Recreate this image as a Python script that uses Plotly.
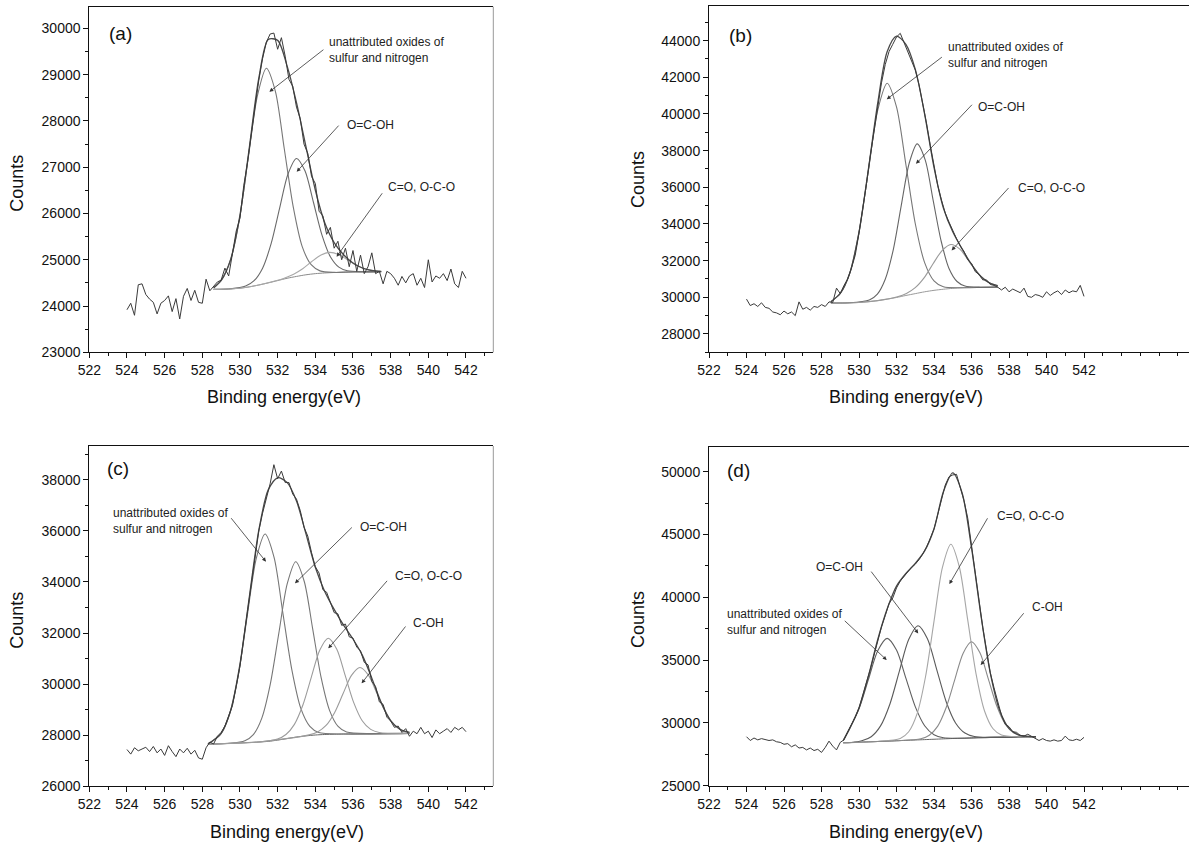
import plotly.graph_objects as go

W, H = 1189, 844
FONT = "Liberation Sans, Arial, sans-serif"

# ---------------- shared energy grid of the measured spectra (eV)
E_RAW = [round(524 + 0.2 * i, 1) for i in range(91)]

# ---------------- panel (a)
A_RAW = [23920, 24060, 23800, 24460, 24480, 24250, 24150, 24080, 23830, 24060,
         24120, 24220, 23880, 24160, 23720, 24210, 24380, 24120, 24340, 24080,
         24060, 24580, 24330, 24420, 24520, 24560, 24820, 24650, 25150, 25620,
         25900, 26600, 27100, 27750, 28300, 28880, 29350, 29700, 29880, 29900,
         29550, 29800, 29400, 28900, 28750, 28300, 28050, 27500, 27300, 26800,
         26650, 26050, 25950, 25550, 25700, 25250, 25400, 25000, 25250, 24850,
         25200, 24750, 25100, 24700, 24850, 25150, 24700, 24750, 24480, 24750,
         24700, 24600, 24450, 24640, 24500, 24650, 24700, 24450, 24600, 24400,
         25000, 24520, 24650, 24600, 24700, 24550, 24800, 24480, 24400, 24750,
         24600]
A_ENV_X = [528.6, 529.0, 529.5, 530.0, 530.5, 531.0, 531.5, 532.0, 532.5, 533.0,
           533.5, 534.0, 534.5, 535.0, 535.5, 536.0, 536.5, 537.0, 537.5]
A_ENV_Y = [24390, 24553, 25000, 25965, 27437, 28927, 29761, 29742, 29191, 28397,
           27450, 26508, 25799, 25370, 25108, 24932, 24822, 24768, 24749]
A_BG_X = [528.6, 529.0, 529.5, 530.0, 530.5, 531.0, 531.5, 532.0, 532.5, 533.0,
          533.5, 534.0, 534.5, 535.0, 535.5, 536.0, 536.5, 537.0, 537.5]
A_BG_Y = [24360, 24362, 24370, 24385, 24415, 24455, 24500, 24550, 24600, 24640,
          24675, 24700, 24715, 24725, 24732, 24737, 24740, 24741, 24742]
A_P1_X = [528.6, 529.03, 529.5, 529.98, 530.45, 530.93, 531.4, 531.88, 532.35,
          532.83, 533.3, 533.78, 534.25, 535.0, 536.0, 537.5]
A_P1_Y = [24400, 24566, 24999, 25894, 27232, 28553, 29141, 28642, 27405,
          26136, 25290, 24893, 24760, 24727, 24737, 24742]
A_P2_X = [528.6, 529.5, 530.3, 530.75, 531.2, 531.65, 532.1, 532.55, 533.0,
          533.45, 533.9, 534.35, 534.8, 535.25, 535.7, 536.5, 537.5]
A_P2_Y = [24360, 24372, 24431, 24547, 24818, 25343, 26107, 26854, 27190,
          26922, 26243, 25539, 25066, 24841, 24762, 24740, 24742]
A_P3_X = [528.6, 530.0, 531.0, 531.9, 532.38, 532.85, 533.33, 533.8, 534.28,
          534.75, 535.23, 535.7, 536.18, 536.65, 537.13, 537.5]
A_P3_Y = [24360, 24385, 24455, 24545, 24607, 24689, 24806, 24957, 25096,
          25160, 25116, 25001, 24881, 24800, 24760, 24747]

# ---------------- panel (b)
B_RAW = [29900, 29550, 29650, 29500, 29700, 29450, 29400, 29200, 29150, 29050,
         29250, 29100, 29200, 29000, 29750, 29350, 29450, 29300, 29500, 29450,
         29600, 29500, 29750, 29720, 30500, 30200, 30650, 31000, 31600, 32300,
         33500, 34800, 36200, 37700, 39100, 40500, 41700, 42700, 43400, 43800,
         44200, 44400, 43900, 43500, 43000, 42400, 41600, 40600, 39500, 38300,
         37100, 36100, 35300, 34600, 34100, 33600, 33200, 32800, 32500, 32050,
         31850, 31400, 31250, 30950, 30950, 30700, 30650, 30550, 30400, 30550,
         30300, 30450, 30350, 30250, 30500, 30050, 30000, 30150, 30100, 30000,
         30300, 30100, 30250, 30350, 30150, 30400, 30250, 30350, 30300, 30650,
         30050]
B_ENV_X = [528.5, 529.0, 529.5, 530.0, 530.5, 531.0, 531.5, 532.0, 532.5, 533.0,
           533.5, 534.0, 534.5, 535.0, 535.5, 536.0, 536.5, 537.0, 537.4]
B_ENV_Y = [29760, 30209, 31294, 33556, 36981, 40602, 43400, 44250, 43800, 42444,
           39998, 37082, 34866, 33572, 32637, 31792, 31131, 30764, 30635]
B_BG_X = [528.5, 529.0, 529.5, 530.0, 530.5, 531.0, 531.5, 532.0, 532.5, 533.0,
          533.5, 534.0, 534.5, 535.0, 535.5, 536.0, 536.5, 537.4]
B_BG_Y = [29690, 29692, 29700, 29720, 29760, 29820, 29900, 29990, 30100, 30200,
          30300, 30380, 30440, 30490, 30520, 30540, 30550, 30560]
B_P1_X = [528.5, 529.0, 529.5, 530.0, 530.5, 531.0, 531.5, 532.0, 532.5, 533.0,
          533.5, 534.0, 534.5, 535.5, 537.4]
B_P1_Y = [29760, 30209, 31294, 33545, 36905, 40216, 41680, 40386, 37245, 34025,
          31894, 30897, 30571, 30522, 30560]
B_P2_X = [528.5, 529.5, 530.55, 530.98, 531.4, 531.83, 532.25, 532.68, 533.1,
          533.53, 533.95, 534.38, 534.8, 535.23, 535.65, 536.5, 537.4]
B_P2_Y = [29690, 29700, 29855, 30175, 30986, 32604, 34988, 37327, 38370,
          37496, 35315, 33071, 31573, 30863, 30616, 30550, 30560]
B_P3_X = [528.5, 530.0, 531.0, 532.05, 532.53, 533.0, 533.48, 533.95, 534.43,
          534.9, 535.38, 535.85, 536.33, 536.8, 537.28, 537.4]
B_P3_Y = [29690, 29720, 29820, 30027, 30210, 30525, 31074, 31828, 32550,
          32880, 32631, 31991, 31326, 30878, 30663, 30620]

# ---------------- panel (c)
C_RAW = [27430, 27250, 27500, 27380, 27450, 27520, 27350, 27550, 27300, 27450,
         27200, 27580, 27350, 27150, 27450, 27300, 27480, 27250, 27400, 27100,
         27050, 27500, 27720, 27650, 27950, 28100, 28350, 28750, 29150, 29900,
         30700, 31800, 32900, 33900, 35100, 36000, 36700, 37300, 37850, 38600,
         38050, 38350, 37900, 37900, 37450, 37250, 36800, 36150, 35800, 35150,
         34600, 34350, 33700, 33600, 33200, 32800, 32750, 32300, 32350, 31850,
         31800, 31450, 31300, 30850, 30750, 30100, 29900, 29300, 29200, 28700,
         28550, 28300, 28350, 28100, 28250, 27950, 28150, 28050, 28300, 28050,
         28150, 27900, 28200, 28050, 28150, 28250, 28100, 28300, 28200, 28300,
         28130]
C_ENV_X = [528.3, 528.5, 529.0, 529.5, 530.0, 530.5, 531.0, 531.5, 532.0, 532.5,
           533.0, 533.5, 534.0, 534.5, 535.0, 535.5, 536.0, 536.5, 537.0, 537.5,
           538.0, 538.5, 539.0]
C_ENV_Y = [27660, 27746, 28062, 28952, 30776, 33430, 36032, 37612, 38087, 37906,
           37178, 35897, 34576, 33629, 32926, 32312, 31764, 31123, 30230, 29269,
           28565, 28221, 28101]
C_BG_X = [528.3, 529.0, 529.5, 530.0, 530.5, 531.0, 531.5, 532.0, 532.5, 533.0,
          533.5, 534.0, 534.5, 535.0, 535.5, 536.0, 536.5, 537.0, 537.5, 538.0,
          538.5, 539.0]
C_BG_Y = [27640, 27660, 27675, 27690, 27708, 27725, 27750, 27800, 27860, 27920,
          27965, 28000, 28020, 28030, 28038, 28045, 28050, 28055, 28058, 28061,
          28063, 28065]
C_P1_X = [528.3, 528.48, 528.96, 529.43, 529.91, 530.38, 530.86, 531.33, 531.81,
          532.28, 532.76, 533.23, 533.71, 534.18, 535.5, 539.0]
C_P1_Y = [27640, 27736, 28016, 28774, 30330, 32641, 34904, 35880, 34964,
          32771, 30534, 29042, 28337, 28097, 28038, 28065]
C_P2_X = [528.3, 529.5, 530.26, 530.71, 531.16, 531.61, 532.06, 532.51, 532.96,
          533.41, 533.86, 534.31, 534.76, 535.21, 535.66, 537.0, 539.0]
C_P2_Y = [27640, 27675, 27775, 28017, 28664, 29995, 31980, 33933, 34795,
          34029, 32163, 30247, 28956, 28335, 28116, 28055, 28065]
C_P3_X = [528.3, 530.0, 531.0, 531.99, 532.44, 532.89, 533.34, 533.79, 534.24,
          534.69, 535.14, 535.59, 536.04, 536.49, 536.94, 537.39, 539.0]
C_P3_Y = [27640, 27690, 27725, 27841, 28019, 28417, 29175, 30272, 31337,
          31794, 31359, 30326, 29269, 28560, 28220, 28099, 28065]
C_P4_X = [528.3, 531.0, 533.67, 534.12, 534.57, 535.02, 535.47, 535.92, 536.37,
          536.82, 537.27, 537.72, 538.17, 538.62, 539.0]
C_P4_Y = [27640, 27725, 28006, 28119, 28373, 28874, 29615, 30339, 30649,
          30348, 29634, 28903, 28414, 28177, 28105]

# ---------------- panel (d)
D_RAW = [28900, 28600, 28800, 28650, 28750, 28700, 28600, 28650, 28500, 28450,
         28300, 28350, 28100, 28250, 28000, 28050, 27850, 28000, 27800, 27900,
         27650, 28050, 28550, 28150, 27850, 28450, 28650, 29300, 29900, 30450,
         31200, 32150, 33250, 34250, 35450, 36600, 37650, 38550, 39500, 39950,
         40750, 41300, 41650, 42000, 42400, 42650, 43000, 43450, 44000, 44700,
         45450, 46600, 47800, 48950, 49600, 49750, 49800, 48800, 47700, 46300,
         44000, 41800, 39800, 37600, 35700, 34000, 32800, 31600, 30600, 29900,
         29700, 29300, 29250, 29000, 28950, 29100, 28950, 28800, 28600, 28750,
         28600, 28550, 28650, 28550, 28600, 28950, 28650, 28600, 28700, 28600,
         28850]
D_ENV_X = [529.16, 529.5, 530.0, 530.5, 531.0, 531.5, 532.0, 532.5, 533.0, 533.5,
           534.0, 534.5, 535.0, 535.5, 536.0, 536.5, 537.0, 537.5, 538.0, 538.5,
           539.0, 539.44]
D_ENV_Y = [28600, 29547, 31185, 33728, 36646, 39072, 40900, 41900, 42700, 43700,
           45450, 48408, 49913, 48314, 43951, 38609, 33993, 31011, 29568, 29050,
           28925, 28900]
D_BG_X = [529.16, 529.5, 530.0, 530.5, 531.0, 531.5, 532.0, 532.5, 533.0, 533.5,
          534.0, 534.5, 535.0, 535.5, 536.0, 536.5, 537.0, 537.5, 538.0, 538.5,
          539.0, 539.44]
D_BG_Y = [28424, 28440, 28465, 28495, 28525, 28550, 28580, 28610, 28640, 28670,
          28700, 28730, 28760, 28785, 28810, 28830, 28850, 28865, 28878, 28888,
          28895, 28900]
D_P1_X = [529.16, 529.5, 530.0, 530.5, 531.0, 531.5, 532.0, 532.5, 533.0, 533.5,
          534.0, 534.5, 535.5, 537.0, 539.44]
D_P1_Y = [28600, 29547, 31121, 33456, 35744, 36730, 35799, 33571, 31296, 29777,
          29059, 28821, 28785, 28850, 28900]
D_P2_X = [529.16, 529.6, 530.15, 530.65, 531.15, 531.65, 532.15, 532.65, 533.15,
          533.65, 534.15, 534.65, 535.15, 535.65, 536.15, 537.0, 539.44]
D_P2_Y = [28424, 28445, 28575, 28903, 29763, 31511, 34102, 36641, 37739,
          36701, 34222, 31691, 29998, 29192, 28917, 28852, 28900]
D_P3_X = [529.16, 531.0, 532.2, 532.65, 533.1, 533.55, 534.0, 534.45, 534.9,
          535.35, 535.8, 536.25, 536.7, 537.15, 537.6, 538.5, 539.44]
D_P3_Y = [28424, 28525, 28764, 29299, 30740, 33699, 38089, 42388, 44234,
          42439, 38189, 33846, 30932, 29535, 29040, 28888, 28900]
D_P4_X = [529.16, 532.0, 533.3, 533.75, 534.2, 534.65, 535.1, 535.55, 536.0,
          536.45, 536.9, 537.35, 537.8, 538.25, 538.7, 539.44]
D_P4_Y = [28424, 28580, 28743, 29021, 29747, 31229, 33405, 35539, 36460,
          35579, 33486, 31345, 29908, 29219, 28976, 28900]

# ---------------- labels
X_TICKS = [522, 524, 526, 528, 530, 532, 534, 536, 538, 540, 542]
X_TITLE = "Binding energy(eV)"
Y_TITLE = "Counts"
LBL_OX = "unattributed oxides of<br>sulfur and nitrogen"
LBL_COOH = "O=C-OH"
LBL_CO = "C=O, O-C-O"
LBL_COH = "C-OH"

# ---------------- layout configuration (positions in pixels / data units)
def px(x):
    return x / W


def py(y):
    return 1 - y / H


PANELS = [
    dict(name="(a)", ax="", xdom=[px(89.3), px(493.3)], ydom=[py(352.3), py(6.7)],
         xr=[522, 543.45], yr=[23000, 30470], ydt=1000, ymin=500,
         raw=A_RAW, env=(A_ENV_X, A_ENV_Y), bg=(A_BG_X, A_BG_Y, "#8a8a8a"),
         comps=[(A_P1_X, A_P1_Y, "#777777"), (A_P2_X, A_P2_Y, "#6a6a6a"),
                (A_P3_X, A_P3_Y, "#a8a8a8")],
         letter=(522.92, 29890),
         notes=[(LBL_OX, 534.64, 29530, 534.51, 29566, 531.56, 28630),
                (LBL_COOH, 535.58, 27910, 535.31, 27932, 533.01, 26902),
                (LBL_CO, 537.75, 26578, 537.61, 26470, 535.13, 25066)],
         xt=(283.5, 397), yt=(16.7, 183), rline=True),
    dict(name="(b)", ax="2", xdom=[px(709), 1.0], ydom=[py(352.3), py(6)],
         xr=[522, 547.6], yr=[27000, 45890], ydt=2000, ymin=1000,
         raw=B_RAW, env=(B_ENV_X, B_ENV_Y), bg=(B_BG_X, B_BG_Y, "#9a9a9a"),
         comps=[(B_P1_X, B_P1_Y, "#777777"), (B_P2_X, B_P2_Y, "#666666"),
                (B_P3_X, B_P3_Y, "#9a9a9a")],
         letter=(522.94, 44308),
         notes=[(LBL_OX, 534.64, 43218, 534.5, 43163, 531.48, 40803),
                (LBL_COOH, 536.24, 40367, 536.1, 40585, 533.04, 37280),
                (LBL_CO, 538.37, 35954, 538.05, 36045, 534.94, 32558)],
         xt=(906, 397), yt=(638, 180), rline=False),
    dict(name="(c)", ax="3", xdom=[px(89.3), px(493.3)], ydom=[py(786), py(446)],
         xr=[522, 543.45], yr=[26000, 39333], ydt=2000, ymin=1000,
         raw=C_RAW, env=(C_ENV_X, C_ENV_Y), bg=(C_BG_X, C_BG_Y, "#666666"),
         comps=[(C_P1_X, C_P1_Y, "#777777"), (C_P2_X, C_P2_Y, "#777777"),
                (C_P3_X, C_P3_Y, "#9c9c9c"), (C_P4_X, C_P4_Y, "#9c9c9c")],
         letter=(522.83, 38456),
         notes=[(LBL_OX, 523.13, 36404, 529.47, 36561, 531.38, 34796),
                (LBL_COOH, 536.28, 36142, 536.02, 36195, 532.92, 33947),
                (LBL_CO, 538.11, 34234, 537.88, 34103, 534.69, 31398),
                (LBL_COH, 539.06, 32378, 538.85, 32313, 536.46, 30026)],
         xt=(286.7, 832), yt=(16.7, 620), rline=True),
    dict(name="(d)", ax="4", xdom=[px(709), 1.0], ydom=[py(785.7), py(446.7)],
         xr=[522, 547.6], yr=[25000, 52000], ydt=5000, ymin=2500,
         raw=D_RAW, env=(D_ENV_X, D_ENV_Y), bg=(D_BG_X, D_BG_Y, "#666666"),
         comps=[(D_P1_X, D_P1_Y, "#5e5e5e"), (D_P2_X, D_P2_Y, "#5a5a5a"),
                (D_P3_X, D_P3_Y, "#a6a6a6"), (D_P4_X, D_P4_Y, "#8a8a8a")],
         letter=(522.85, 50133),
         notes=[(LBL_COOH, 527.6, 42437, 530.59, 42172, 533.16, 37129),
                (LBL_OX, 522.85, 38058, 529.16, 38243, 531.48, 35006),
                (LBL_CO, 537.25, 46471, 536.9, 46418, 534.82, 41057),
                (LBL_COH, 539.12, 39199, 538.85, 38854, 536.49, 34608)],
         xt=(906, 832), yt=(638, 620), rline=False),
]

fig = go.Figure()
annotations = []
shapes = []
layout = {}

for p in PANELS:
    xa, ya = "x" + p["ax"], "y" + p["ax"]
    # background
    fig.add_trace(go.Scatter(x=p["bg"][0], y=p["bg"][1], mode="lines",
                             line=dict(color=p["bg"][2], width=1, shape="spline", smoothing=0.8),
                             xaxis=xa, yaxis=ya, showlegend=False, hoverinfo="skip"))
    for cx, cy, col in p["comps"]:
        fig.add_trace(go.Scatter(x=cx, y=cy, mode="lines",
                                 line=dict(color=col, width=1.1, shape="spline", smoothing=0.8),
                                 xaxis=xa, yaxis=ya, showlegend=False, hoverinfo="skip"))
    fig.add_trace(go.Scatter(x=p["env"][0], y=p["env"][1], mode="lines",
                             line=dict(color="#4a4a4a", width=1.3, shape="spline", smoothing=0.8),
                             xaxis=xa, yaxis=ya, showlegend=False, hoverinfo="skip"))
    fig.add_trace(go.Scatter(x=E_RAW, y=p["raw"], mode="lines",
                             line=dict(color="#3a3a3a", width=1),
                             xaxis=xa, yaxis=ya, showlegend=False, hoverinfo="skip"))

    layout["xaxis" + p["ax"]] = dict(
        domain=p["xdom"], range=p["xr"], anchor=ya, showline=True, linecolor="#111",
        linewidth=1, mirror=True, ticks="outside", ticklen=5, tickwidth=1,
        tickcolor="#111", tickmode="array", tickvals=X_TICKS,
        minor=dict(dtick=1, tick0=522, ticklen=3, ticks="outside", tickcolor="#111"),
        showgrid=False, zeroline=False, automargin=False,
        tickfont=dict(size=14, family=FONT, color="#111"))
    layout["yaxis" + p["ax"]] = dict(
        domain=p["ydom"], range=p["yr"], anchor=xa, showline=True, linecolor="#111",
        linewidth=1, mirror=False, ticks="outside", ticklen=5, tickwidth=1,
        tickcolor="#111", dtick=p["ydt"], tick0=0, tickformat="d",
        minor=dict(dtick=p["ymin"], ticklen=3, ticks="outside", tickcolor="#111"),
        showgrid=False, zeroline=False, automargin=False,
        tickfont=dict(size=14, family=FONT, color="#111"))

    if p["rline"]:
        shapes.append(dict(type="line", xref="paper", yref="paper",
                           x0=p["xdom"][1], x1=p["xdom"][1], y0=p["ydom"][0], y1=p["ydom"][1],
                           line=dict(color="#999999", width=1)))

    annotations.append(dict(x=p["letter"][0], y=p["letter"][1], xref=xa, yref=ya,
                            text=p["name"], showarrow=False, xanchor="left",
                            yanchor="middle", font=dict(size=19, family=FONT, color="#111")))
    for txt, tx, ty, ax0, ay0, hx, hy in p["notes"]:
        annotations.append(dict(x=tx, y=ty, xref=xa, yref=ya, text=txt, showarrow=False,
                                xanchor="left", yanchor="middle", align="left",
                                font=dict(size=12, family=FONT, color="#222")))
        annotations.append(dict(x=hx, y=hy, ax=ax0, ay=ay0, xref=xa, yref=ya,
                                axref=xa, ayref=ya, text="", showarrow=True,
                                arrowhead=2, arrowsize=1, arrowwidth=0.8,
                                arrowcolor="#333"))
    annotations.append(dict(x=px(p["xt"][0]), y=py(p["xt"][1]), xref="paper", yref="paper",
                            text=X_TITLE, showarrow=False, xanchor="center", yanchor="middle",
                            font=dict(size=18, family=FONT, color="#111")))
    annotations.append(dict(x=px(p["yt"][0]), y=py(p["yt"][1]), xref="paper", yref="paper",
                            text=Y_TITLE, showarrow=False, xanchor="center", yanchor="middle",
                            textangle=-90, font=dict(size=18, family=FONT, color="#111")))

fig.update_layout(width=W, height=H, margin=dict(l=0, r=0, t=0, b=0),
                  paper_bgcolor="white", plot_bgcolor="white",
                  annotations=annotations, shapes=shapes, **layout)

fig.write_html("out.html", config={"displayModeBar": False})

# remove the browser's default page margin so the figure sits at the window's origin
with open("out.html", "r", encoding="utf-8") as f:
    page = f.read()
page = page.replace("<head>", "<head><style>html,body{margin:0;padding:0;overflow:hidden;}</style>", 1)
with open("out.html", "w", encoding="utf-8") as f:
    f.write(page)
